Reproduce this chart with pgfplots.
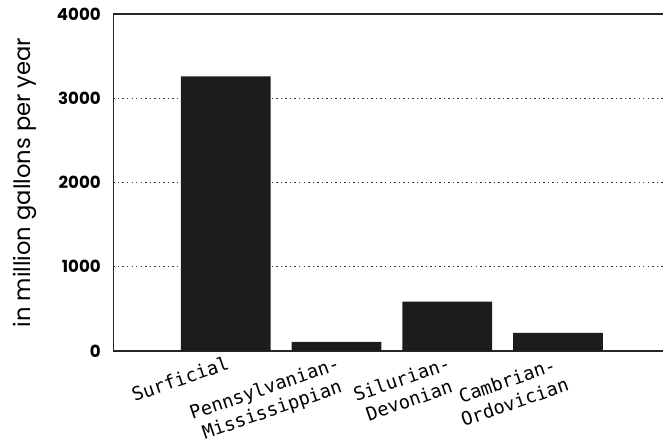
\documentclass[border=0pt]{standalone}
\usepackage{pgfplots}
\pgfplotsset{compat=1.18}
\usepackage{fontspec}
\setmainfont{Poppins}
\newfontfamily\catfont{DejaVu Sans Mono}
\definecolor{barblack}{HTML}{1C1C1E}
\begin{document}
\begin{tikzpicture}
\begin{axis}[
  scale only axis,
  width=413pt, height=253pt,
  xmin=-1.014, xmax=3.95,
  ymin=0, ymax=4000,
  axis x line*=box,
  axis y line*=left,
  axis line style={line width=1.1pt, black!85},
  ytick={0,1000,2000,3000,4000},
  ymajorgrids,
  major grid style={dash pattern=on 1.1pt off 2.3pt, line width=1pt, black!80},
  major tick length=0pt,
  xtick=data,
  xticklabels={Surficial, {Pennsylvanian-\\Mississippian}, {Silurian-\\Devonian}, {Cambrian-\\Ordovician}},
  xticklabel style={font=\catfont\fontsize{14}{17}\selectfont, rotate=19, anchor=north east, align=center, inner sep=0pt, yshift=-3pt, xshift=-1pt},
  /pgf/number format/assume math mode=true,
  /pgf/number format/set thousands separator={},
  yticklabel style={font=\bfseries\fontsize{12.5}{14}\selectfont, xshift=-6pt},
  ylabel={in million gallons per year},
  ylabel style={font=\fontsize{17}{18}\selectfont, yshift=8pt},
  clip=false,
]
\addplot[ybar, bar width=67.5pt, draw=none, fill=barblack]
  coordinates {(0,3260) (1,107) (2,583) (3,212)};
\end{axis}
% white margins round the picture
\path ([xshift=-7pt]current bounding box.west);
\path ([yshift=2.5pt]current bounding box.north);
\end{tikzpicture}
\end{document}
